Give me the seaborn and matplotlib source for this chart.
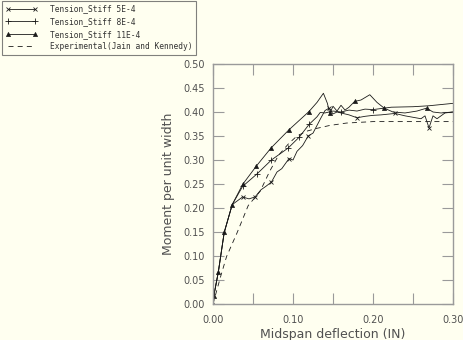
import numpy as np
import pandas as pd
import matplotlib
matplotlib.use("Agg")
import matplotlib.pyplot as plt
import seaborn as sns

# ---- data ----
x_5e4 = [0.0, 0.001, 0.0066, 0.014, 0.024, 0.037, 0.045, 0.0525, 0.06, 0.066, 0.073, 0.08, 0.086,
         0.095, 0.10, 0.105, 0.112, 0.119, 0.125, 0.13, 0.135, 0.14, 0.145, 0.15, 0.155, 0.16,
         0.17, 0.18, 0.19, 0.2, 0.21, 0.2275, 0.24, 0.25, 0.26, 0.265, 0.27, 0.275, 0.28, 0.29, 0.30]
y_5e4 = [0.0, 0.017, 0.066, 0.149, 0.207, 0.223, 0.219, 0.223, 0.238, 0.245, 0.254, 0.275, 0.282,
         0.303, 0.300, 0.318, 0.330, 0.350, 0.356, 0.372, 0.388, 0.403, 0.408, 0.396, 0.400, 0.398,
         0.394, 0.388, 0.391, 0.393, 0.394, 0.397, 0.392, 0.389, 0.386, 0.392, 0.367, 0.392, 0.386, 0.398, 0.400]

x_8e4 = [0.0, 0.001, 0.0066, 0.014, 0.024, 0.037, 0.055, 0.073, 0.094, 0.108, 0.12, 0.13, 0.134,
         0.14, 0.15, 0.16, 0.17, 0.18, 0.19, 0.2, 0.223, 0.25, 0.27, 0.30]
y_8e4 = [0.0, 0.017, 0.066, 0.149, 0.207, 0.245, 0.271, 0.300, 0.325, 0.348, 0.374, 0.390, 0.399,
         0.398, 0.402, 0.400, 0.404, 0.402, 0.406, 0.405, 0.410, 0.411, 0.413, 0.418]

x_11e4 = [0.0, 0.001, 0.0066, 0.014, 0.024, 0.037, 0.054, 0.0725, 0.095, 0.12, 0.13, 0.138, 0.143,
          0.146, 0.15, 0.155, 0.16, 0.165, 0.17, 0.177, 0.185, 0.196, 0.205, 0.214, 0.225, 0.24,
          0.255, 0.267, 0.275, 0.285, 0.30]
y_11e4 = [0.0, 0.017, 0.066, 0.149, 0.207, 0.249, 0.287, 0.325, 0.363, 0.401, 0.420, 0.439, 0.418,
          0.397, 0.412, 0.402, 0.414, 0.404, 0.410, 0.422, 0.425, 0.436, 0.420, 0.408, 0.400, 0.398,
          0.402, 0.408, 0.400, 0.398, 0.400]

x_exp = [0.0, 0.005, 0.010, 0.017, 0.030, 0.044, 0.059, 0.071, 0.082, 0.095, 0.105, 0.117, 0.13,
         0.146, 0.167, 0.2, 0.25, 0.30]
y_exp = [0.0, 0.030, 0.060, 0.099, 0.148, 0.205, 0.235, 0.277, 0.310, 0.335, 0.350, 0.360, 0.366,
         0.372, 0.377, 0.380, 0.380, 0.380]

labels = ["Tension_Stiff 5E-4", "Tension_Stiff 8E-4", "Tension_Stiff 11E-4",
          "Experimental(Jain and Kennedy)"]

x_ticks = [0.00, 0.10, 0.20, 0.30]
y_ticks = [0.00, 0.05, 0.10, 0.15, 0.20, 0.25, 0.30, 0.35, 0.40, 0.45, 0.50]

# ---- figure ----
bg = "#fffff0"
sns.set_style("white")
plt.rcParams["font.family"] = ["DejaVu Sans"]

fig = plt.figure(figsize=(4.63, 3.40), dpi=100, facecolor=bg)
ax = fig.add_axes([213 / 463, 36 / 340, 240 / 463, 240 / 340])
ax.set_facecolor(bg)

lc = "#1a1a1a"
lw = 0.6

def draw(xs, ys, label, **kw):
    df = pd.DataFrame({"x": xs, "y": ys})
    sns.lineplot(data=df, x="x", y="y", ax=ax, sort=False, estimator=None,
                 color=lc, linewidth=lw, label=label, **kw)

mk5 = [i for i, v in enumerate(x_5e4) if v in (0.037, 0.0525, 0.073, 0.095, 0.119, 0.145, 0.18, 0.2275, 0.27)]
mk8 = [i for i, v in enumerate(x_8e4) if v in (0.037, 0.055, 0.073, 0.094, 0.108, 0.12, 0.16, 0.2)]
mk11 = [i for i, v in enumerate(x_11e4) if v in (0.0, 0.001, 0.0066, 0.014, 0.024, 0.037, 0.054, 0.0725,
                                                 0.095, 0.12, 0.146, 0.177, 0.214, 0.267)]

draw(x_5e4, y_5e4, labels[0], marker="x", markersize=3.5, markeredgewidth=0.6,
     markeredgecolor=lc, markevery=mk5)
draw(x_8e4, y_8e4, labels[1], marker="+", markersize=4.5, markeredgewidth=0.6,
     markeredgecolor=lc, markevery=mk8)
draw(x_11e4, y_11e4, labels[2], marker="^", markersize=3.0, markeredgewidth=0.5,
     markerfacecolor=lc, markeredgecolor=lc, markevery=mk11)
draw(x_exp, y_exp, labels[3], dashes=(6, 5))

ax.set_xlim(0, 0.30)
ax.set_ylim(0, 0.50)
ax.set_xticks(x_ticks)
ax.set_xticks([0.05, 0.15, 0.25], minor=True)
ax.set_yticks(y_ticks)
ax.set_xticklabels([f"{v:.2f}" for v in x_ticks])
ax.set_yticklabels([f"{v:.2f}" for v in y_ticks])

tc = "#505050"
sc = "#9a9a9a"
for s in ax.spines.values():
    s.set_color(sc)
    s.set_linewidth(1.0)
ax.tick_params(axis="both", which="both", direction="in", length=8, width=0.8, color=sc,
               labelsize=7, labelcolor=tc, top=True, right=True, bottom=True, left=True)
ax.tick_params(axis="x", which="both", pad=8)
ax.tick_params(axis="y", pad=6)
ax.set_xlabel("Midspan deflection (IN)", fontsize=9, color=tc, labelpad=2)
ax.set_ylabel("Moment per unit width", fontsize=9, color=tc, labelpad=6)

leg = ax.legend(loc="upper left", bbox_to_anchor=(2 / 463, 1 - 1 / 340), bbox_transform=fig.transFigure,
                prop={"family": "DejaVu Sans Mono", "size": 5.7}, frameon=True, fancybox=False,
                handlelength=4.0, handletextpad=1.6, borderpad=0.45, labelspacing=0.45,
                borderaxespad=0, numpoints=2)
leg.get_frame().set_edgecolor("#606060")
leg.get_frame().set_facecolor(bg)
leg.get_frame().set_linewidth(0.8)
for t in leg.get_texts():
    t.set_color("#333333")

fig.savefig("out.png", dpi=100, facecolor=bg)
